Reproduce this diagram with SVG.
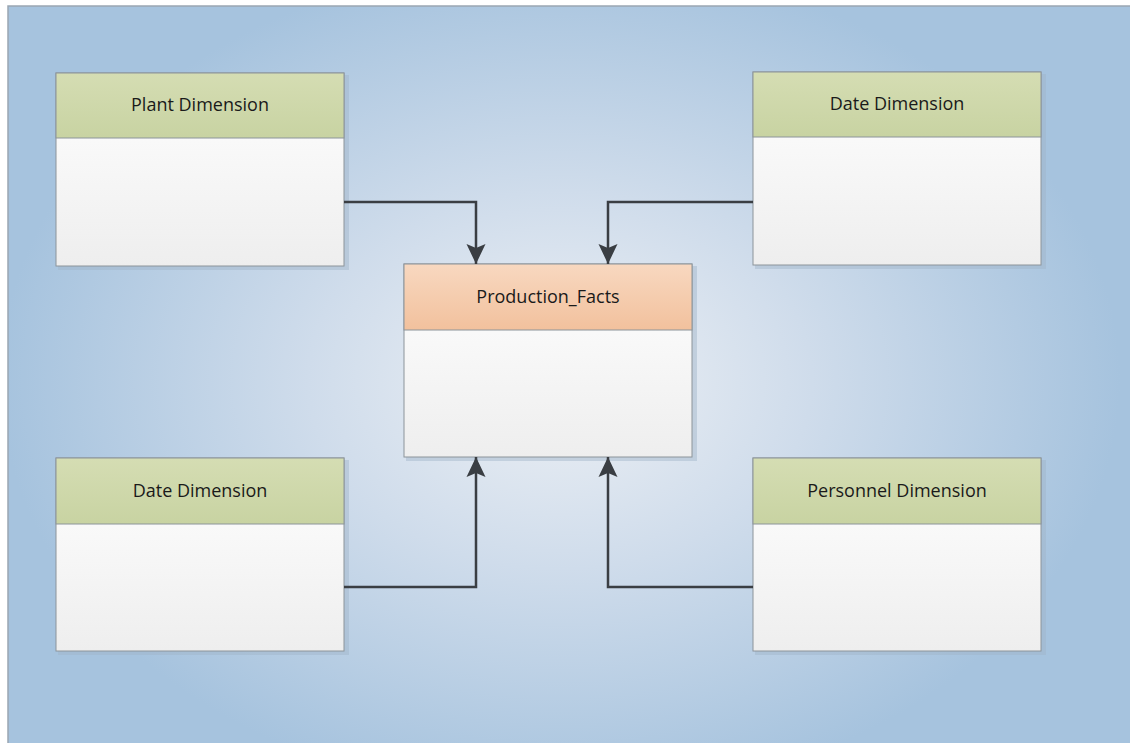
<svg xmlns="http://www.w3.org/2000/svg" width="1130" height="743" viewBox="0 0 1130 743">
<defs>
<radialGradient id="bg" cx="560" cy="380" r="560" gradientUnits="userSpaceOnUse" gradientTransform="translate(560 380) scale(1 0.75) translate(-560 -380)">
<stop offset="0" stop-color="#eef1f5"/>
<stop offset="0.45" stop-color="#cfdceb"/>
<stop offset="1" stop-color="#a6c3de"/>
</radialGradient>
<linearGradient id="green" x1="0" y1="0" x2="0" y2="1">
<stop offset="0" stop-color="#d5ddb3"/>
<stop offset="1" stop-color="#c8d3a2"/>
</linearGradient>
<linearGradient id="orange" x1="0" y1="0" x2="0" y2="1">
<stop offset="0" stop-color="#f8d8c0"/>
<stop offset="1" stop-color="#f2c19d"/>
</linearGradient>
<linearGradient id="body" x1="0" y1="0" x2="0" y2="1">
<stop offset="0" stop-color="#ffffff"/>
<stop offset="1" stop-color="#eeeeee"/>
</linearGradient>
<marker id="arr" markerWidth="22" markerHeight="22" refX="20" refY="11" orient="auto" markerUnits="userSpaceOnUse">
<path d="M0,1.5 L20,11 L0,20.5 L4,11 Z" fill="#3a3e43"/>
</marker>
</defs>
<style>
.shadow{fill:#9fb3c8;opacity:0.45}
.hdr{stroke:#8c949a;stroke-width:1}
.bdy{fill:url(#body);stroke:#8c949a;stroke-width:1}
.lbl{font-family:"Open Sans","Noto Sans",sans-serif;font-size:18px;fill:#1a1a1a;text-anchor:middle}
.conn{fill:none;stroke:#3a3e43;stroke-width:2.5}
</style>
<rect x="8" y="6" width="1130" height="740" fill="url(#bg)" stroke="#9aa6b2" stroke-width="1.5"/>

<g id="plant">
<rect class="shadow" x="58" y="75" width="291" height="195"/>
<rect class="bdy" x="56" y="73" width="288" height="193"/>
<rect class="hdr" x="56" y="73" width="288" height="65" fill="url(#green)"/>
<text class="lbl" x="200" y="111">Plant Dimension</text>
</g>

<g id="date-top">
<rect class="shadow" x="755" y="74" width="291" height="195"/>
<rect class="bdy" x="753" y="72" width="288" height="193"/>
<rect class="hdr" x="753" y="72" width="288" height="65" fill="url(#green)"/>
<text class="lbl" x="897" y="110">Date Dimension</text>
</g>

<g id="facts">
<rect class="shadow" x="406" y="266" width="291" height="195"/>
<rect class="bdy" x="404" y="264" width="288" height="193"/>
<rect class="hdr" x="404" y="264" width="288" height="66" fill="url(#orange)"/>
<text class="lbl" x="548" y="303">Production_Facts</text>
</g>

<g id="date-bottom">
<rect class="shadow" x="58" y="460" width="291" height="195"/>
<rect class="bdy" x="56" y="458" width="288" height="193"/>
<rect class="hdr" x="56" y="458" width="288" height="66" fill="url(#green)"/>
<text class="lbl" x="200" y="497">Date Dimension</text>
</g>

<g id="personnel">
<rect class="shadow" x="755" y="460" width="291" height="195"/>
<rect class="bdy" x="753" y="458" width="288" height="193"/>
<rect class="hdr" x="753" y="458" width="288" height="66" fill="url(#green)"/>
<text class="lbl" x="897" y="497">Personnel Dimension</text>
</g>

<g id="connectors">
<path class="conn" d="M344,202 H476 V264" marker-end="url(#arr)"/>
<path class="conn" d="M753,202 H608 V264" marker-end="url(#arr)"/>
<path class="conn" d="M344,587 H476 V457" marker-end="url(#arr)"/>
<path class="conn" d="M753,587 H608 V457" marker-end="url(#arr)"/>
</g>
</svg>
